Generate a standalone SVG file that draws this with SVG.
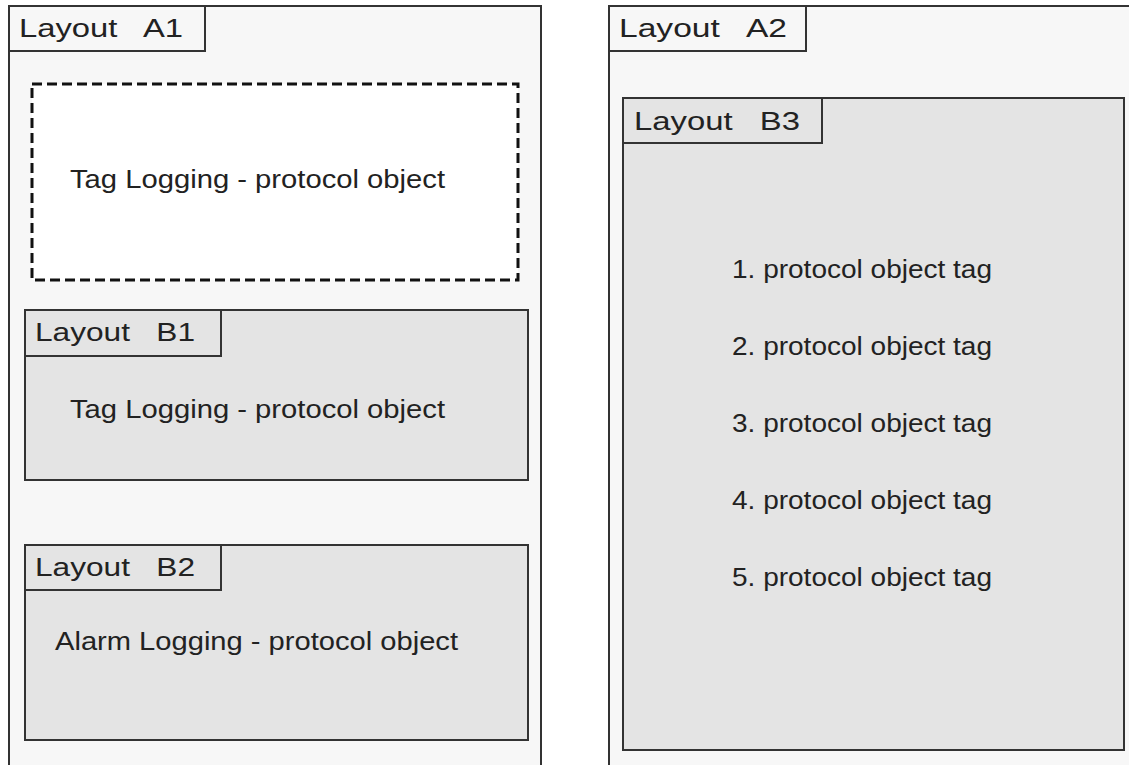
<svg xmlns="http://www.w3.org/2000/svg" width="1129" height="765" viewBox="0 0 1129 765">
<style>
.outer{fill:#f7f7f7;stroke:#333;stroke-width:2}
.inner{fill:#e4e4e4;stroke:#333;stroke-width:2}
.dash{fill:#fff;stroke:#111;stroke-width:3;stroke-dasharray:10 5}
.lbl{fill:#f7f7f7;stroke:#333;stroke-width:2}
.lbli{fill:#e4e4e4;stroke:#333;stroke-width:2}
text{font-family:"Liberation Sans",Arial,sans-serif;font-size:25px;fill:#222;white-space:pre}
</style>
<rect width="1129" height="765" fill="#fff"/>
<g id="A1">
<rect class="outer" x="9" y="6" width="532" height="770"/>
<rect class="lbl" x="9" y="6" width="196" height="45"/>
<text x="19" y="37" textLength="164" lengthAdjust="spacingAndGlyphs">Layout   A1</text>
</g>
<g id="TagLogging1">
<rect class="dash" x="32" y="84" width="486" height="196"/>
<text x="70" y="188" textLength="375" lengthAdjust="spacingAndGlyphs">Tag Logging - protocol object</text>
</g>
<g id="B1">
<rect class="inner" x="25" y="310" width="503" height="170"/>
<rect class="lbli" x="25" y="310" width="196" height="46"/>
<text x="35" y="341" textLength="160" lengthAdjust="spacingAndGlyphs">Layout   B1</text>
<text x="70" y="418" textLength="375" lengthAdjust="spacingAndGlyphs">Tag Logging - protocol object</text>
</g>
<g id="B2">
<rect class="inner" x="25" y="545" width="503" height="195"/>
<rect class="lbli" x="25" y="545" width="196" height="45"/>
<text x="35" y="576" textLength="160" lengthAdjust="spacingAndGlyphs">Layout   B2</text>
<text x="55" y="650" textLength="403" lengthAdjust="spacingAndGlyphs">Alarm Logging - protocol object</text>
</g>
<g id="A2">
<rect class="outer" x="609" y="6" width="540" height="770"/>
<rect class="lbl" x="609" y="6" width="197" height="45"/>
<text x="619" y="37" textLength="168" lengthAdjust="spacingAndGlyphs">Layout   A2</text>
</g>
<g id="B3">
<rect class="inner" x="623" y="98" width="501" height="652"/>
<rect class="lbli" x="623" y="98" width="199" height="45"/>
<text x="634" y="130" textLength="166" lengthAdjust="spacingAndGlyphs">Layout   B3</text>
<text x="732" y="278" textLength="260" lengthAdjust="spacingAndGlyphs">1. protocol object tag</text>
<text x="732" y="355" textLength="260" lengthAdjust="spacingAndGlyphs">2. protocol object tag</text>
<text x="732" y="432" textLength="260" lengthAdjust="spacingAndGlyphs">3. protocol object tag</text>
<text x="732" y="509" textLength="260" lengthAdjust="spacingAndGlyphs">4. protocol object tag</text>
<text x="732" y="586" textLength="260" lengthAdjust="spacingAndGlyphs">5. protocol object tag</text>
</g>
<g id="connectors"></g>
</svg>
